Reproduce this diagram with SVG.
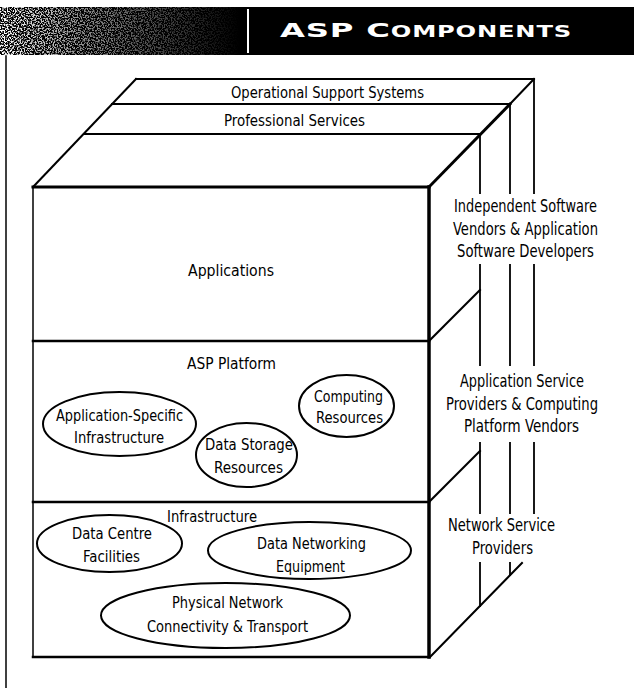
<svg xmlns="http://www.w3.org/2000/svg" width="634" height="688" viewBox="0 0 634 688">
<defs>
<style>
.t{font-family:'Liberation Sans Narrow','DejaVu Sans Condensed','Liberation Sans',sans-serif;font-size:16px;fill:#000}
.r{font-size:18px}
.ln{stroke:#000;fill:none;stroke-linecap:square}
.e{fill:none;stroke:#000;stroke-width:2}
.hd{font-family:'DejaVu Sans','Liberation Sans',sans-serif;font-weight:bold;fill:#fff}
</style>
<linearGradient id="fade" x1="0" y1="0" x2="1" y2="0">
<stop offset="0" stop-color="#fff" stop-opacity="1"/>
<stop offset="0.35" stop-color="#fff" stop-opacity="0.55"/>
<stop offset="1" stop-color="#fff" stop-opacity="0"/>
</linearGradient>
<filter id="speckle" x="0" y="0" width="1" height="1">
<feTurbulence type="fractalNoise" baseFrequency="0.7" numOctaves="2" seed="7" result="n"/>
<feColorMatrix in="n" type="matrix" values="0 0 0 0 1  0 0 0 0 1  0 0 0 0 1  7 0 0 0 -3.2" result="w"/>
<feComposite in="w" in2="SourceGraphic" operator="in"/>
</filter>
</defs>
<rect width="634" height="688" fill="#fff"/>

<g id="header">
<rect x="0" y="7" width="634" height="48" fill="#000"/>
<rect x="0" y="7" width="240" height="48" fill="url(#fade)" filter="url(#speckle)"/>
<line x1="248" y1="9" x2="248" y2="53" stroke="#fff" stroke-width="2"/>
<text class="hd" x="280" y="37" font-size="20" textLength="292" lengthAdjust="spacingAndGlyphs" letter-spacing="0.5">ASP C<tspan font-size="15">OMPONENTS</tspan></text>
</g>

<g id="page-edge">
<line class="ln" x1="6" y1="56" x2="6" y2="688" stroke-width="1.5"/>
</g>

<g id="box-frame">
<line class="ln" x1="136" y1="79" x2="534" y2="79" stroke-width="2"/>
<line class="ln" x1="112" y1="104" x2="510" y2="104" stroke-width="2"/>
<line class="ln" x1="84" y1="134" x2="480" y2="134" stroke-width="2"/>
<line class="ln" x1="33" y1="187" x2="136" y2="79" stroke-width="2"/>
<line class="ln" x1="429" y1="187" x2="510" y2="104" stroke-width="3"/>
<line class="ln" x1="510" y1="104" x2="534" y2="79" stroke-width="2"/>
<line class="ln" x1="33" y1="187" x2="429" y2="187" stroke-width="3"/>
<line class="ln" x1="33" y1="187" x2="33" y2="657" stroke-width="1.5"/>
<line class="ln" x1="33" y1="657" x2="429" y2="657" stroke-width="2.5"/>
<line class="ln" x1="429" y1="187" x2="429" y2="657" stroke-width="3.5"/>
<line class="ln" x1="33" y1="341" x2="429" y2="341" stroke-width="2.5"/>
<line class="ln" x1="33" y1="502" x2="429" y2="502" stroke-width="2.5"/>
<line class="ln" x1="429" y1="341" x2="480" y2="290" stroke-width="2"/>
<line class="ln" x1="429" y1="502" x2="480" y2="451" stroke-width="2"/>
<line class="ln" x1="430" y1="657" x2="522" y2="563" stroke-width="2"/>
<g stroke-width="1.8">
<line class="ln" x1="480" y1="134" x2="480" y2="193"/>
<line class="ln" x1="510" y1="104" x2="510" y2="193"/>
<line class="ln" x1="534" y1="79" x2="534" y2="193"/>
<line class="ln" x1="480" y1="265" x2="480" y2="365"/>
<line class="ln" x1="510" y1="265" x2="510" y2="365"/>
<line class="ln" x1="534" y1="265" x2="534" y2="365"/>
<line class="ln" x1="480" y1="443" x2="480" y2="513"/>
<line class="ln" x1="510" y1="443" x2="510" y2="513"/>
<line class="ln" x1="534" y1="443" x2="534" y2="513"/>
<line class="ln" x1="480" y1="563" x2="480" y2="606"/>
<line class="ln" x1="510" y1="563" x2="510" y2="575"/>
</g>
</g>

<g id="layer-oss"><text class="t" x="231" y="98" textLength="193" lengthAdjust="spacingAndGlyphs">Operational Support Systems</text></g>
<g id="layer-ps"><text class="t" x="224" y="126" textLength="141" lengthAdjust="spacingAndGlyphs">Professional Services</text></g>
<g id="layer-applications"><text class="t" x="188" y="276" textLength="86" lengthAdjust="spacingAndGlyphs">Applications</text></g>
<g id="layer-asp-platform"><text class="t" x="187" y="369" textLength="89" lengthAdjust="spacingAndGlyphs">ASP Platform</text></g>
<g id="layer-infrastructure"><text class="t" x="167" y="522" textLength="90" lengthAdjust="spacingAndGlyphs">Infrastructure</text></g>

<g id="node-app-specific">
<ellipse class="e" cx="119.5" cy="424" rx="76.5" ry="32"/>
<text class="t" x="56" y="421" textLength="127" lengthAdjust="spacingAndGlyphs">Application-Specific</text>
<text class="t" x="74" y="443" textLength="90" lengthAdjust="spacingAndGlyphs">Infrastructure</text>
</g>
<g id="node-computing">
<ellipse class="e" cx="346.5" cy="406" rx="47.5" ry="31"/>
<text class="t" x="314" y="402" textLength="69" lengthAdjust="spacingAndGlyphs">Computing</text>
<text class="t" x="316" y="423" textLength="67" lengthAdjust="spacingAndGlyphs">Resources</text>
</g>
<g id="node-data-storage">
<ellipse class="e" cx="246.5" cy="455" rx="50.5" ry="32"/>
<text class="t" x="205" y="450" textLength="88" lengthAdjust="spacingAndGlyphs">Data Storage</text>
<text class="t" x="214" y="473" textLength="69" lengthAdjust="spacingAndGlyphs">Resources</text>
</g>
<g id="node-data-centre">
<ellipse class="e" cx="109.5" cy="543.5" rx="72.5" ry="28.5"/>
<text class="t" x="72" y="539" textLength="80" lengthAdjust="spacingAndGlyphs">Data Centre</text>
<text class="t" x="83" y="562" textLength="57" lengthAdjust="spacingAndGlyphs">Facilities</text>
</g>
<g id="node-data-networking">
<ellipse class="e" cx="309.5" cy="550.5" rx="101.5" ry="28.5"/>
<text class="t" x="257" y="549" textLength="109" lengthAdjust="spacingAndGlyphs">Data Networking</text>
<text class="t" x="276" y="572" textLength="69" lengthAdjust="spacingAndGlyphs">Equipment</text>
</g>
<g id="node-physical-network">
<ellipse class="e" cx="225.5" cy="615.5" rx="124.5" ry="32.5"/>
<text class="t" x="172" y="608" textLength="111" lengthAdjust="spacingAndGlyphs">Physical Network</text>
<text class="t" x="147" y="632" textLength="161" lengthAdjust="spacingAndGlyphs">Connectivity &amp; Transport</text>
</g>

<g id="label-isv">
<text class="t r" x="454" y="212" textLength="143" lengthAdjust="spacingAndGlyphs">Independent Software</text>
<text class="t r" x="453" y="235" textLength="145" lengthAdjust="spacingAndGlyphs">Vendors &amp; Application</text>
<text class="t r" x="457" y="257" textLength="137" lengthAdjust="spacingAndGlyphs">Software Developers</text>
</g>
<g id="label-asp">
<text class="t r" x="460" y="387" textLength="124" lengthAdjust="spacingAndGlyphs">Application Service</text>
<text class="t r" x="446" y="410" textLength="152" lengthAdjust="spacingAndGlyphs">Providers &amp; Computing</text>
<text class="t r" x="464" y="432" textLength="115" lengthAdjust="spacingAndGlyphs">Platform Vendors</text>
</g>
<g id="label-nsp">
<text class="t r" x="448" y="531" textLength="107" lengthAdjust="spacingAndGlyphs">Network Service</text>
<text class="t r" x="472" y="554" textLength="61" lengthAdjust="spacingAndGlyphs">Providers</text>
</g>
<g id="connectors"/>
</svg>
